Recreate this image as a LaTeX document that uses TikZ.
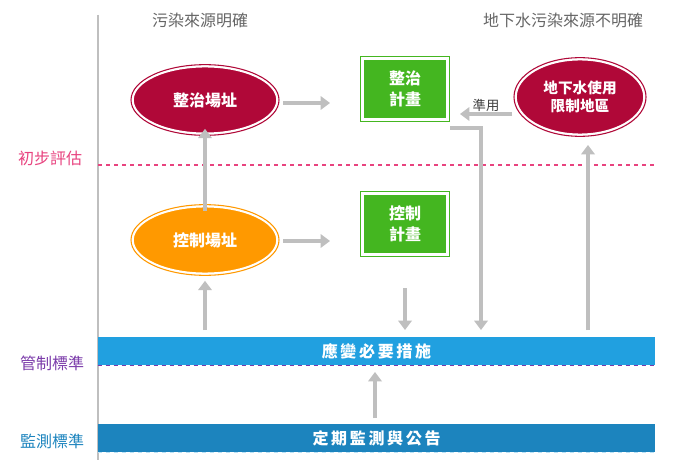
\documentclass[tikz,border=0pt]{standalone}
\usepackage{fontspec}
\setmainfont{Noto Sans CJK TC}
\usetikzlibrary{shapes, arrows.meta, positioning, backgrounds}
\definecolor{crimson}{HTML}{B00838}
\definecolor{orng}{HTML}{FF9900}
\definecolor{grn}{HTML}{44B620}
\definecolor{barblue}{HTML}{21A0E0}
\definecolor{bardark}{HTML}{1C84BE}
\definecolor{pinkish}{HTML}{E8437F}
\definecolor{purp}{HTML}{7B3BAA}
\definecolor{arrgray}{HTML}{BFBFBF}
\tikzstyle{site} = [ellipse, minimum width=108, minimum height=50, draw=white, line width=1.2, text=white, font=\fontsize{12}{14}\selectfont\bfseries]
\tikzstyle{ring} = [ellipse, draw=crimson, line width=0.8]
\tikzstyle{plan} = [rectangle, minimum width=62, minimum height=45, fill=grn, draw=white, line width=1.2, text=white, align=center, font=\fontsize{12}{16}\selectfont\bfseries]
\tikzstyle{bar} = [rectangle, minimum width=418, minimum height=21, text=white, font=\fontsize{12}{14}\selectfont\bfseries, inner sep=0]
\tikzstyle{arrow} = [-{Triangle[length=7,width=10]}, line width=3.4, draw=arrgray]
\tikzstyle{side} = [font=\fontsize{12}{14}\selectfont]

\begin{document}
\begin{tikzpicture}[x=0.75pt, y=-0.75pt, background rectangle/.style={fill=white}, show background rectangle]
    \useasboundingbox (0,0) rectangle (691,470);

    \draw [arrgray, line width=1.5] (98, 15) -- (98, 460);

    \node (head1) [text=gray!80!black, side] at (200, 20) {污染來源明確};
    \node (head2) [text=gray!80!black, side] at (563, 20) {地下水污染來源不明確};

    \node (lab1) [text=pinkish, side] at (50, 158) {初步評估};
    \node (lab2) [text=purp, side] at (52, 363) {管制標準};
    \node (lab3) [text=bardark, side] at (52, 441) {監測標準};

    \draw [pinkish, dashed, line width=1] (98, 165) -- (655, 165);

    % ellipses
    \node (fix) [site, fill=crimson] at (205, 100) {整治場址};
    \node [ring, minimum width=111, minimum height=53] at (fix) {};
    \node (ctrl) [site, fill=orng] at (205, 240) {控制場址};
    \node [ring, draw=orng, minimum width=111, minimum height=53] at (ctrl) {};
    \node (gw) [site, fill=crimson, minimum width=96, minimum height=56, align=center, font=\fontsize{11}{14}\selectfont\bfseries] at (580, 97) {地下水使用\\限制地區};
    \node [ring, minimum width=99, minimum height=59] at (gw) {};

    % plans
    \node (fixplan) [plan] at (405, 89) {整治\\計畫};
    \draw [grn, line width=0.8] ([shift={(-2,-2)}]fixplan.north west) rectangle ([shift={(2,2)}]fixplan.south east);
    \node (ctrlplan) [plan] at (405, 224) {控制\\計畫};
    \draw [grn, line width=0.8] ([shift={(-2,-2)}]ctrlplan.north west) rectangle ([shift={(2,2)}]ctrlplan.south east);

    % bars
    \node (resp) [bar, fill=barblue] at (376.5, 351) {應\,變\,必\,要\,措\,施};
    \node (mon) [bar, fill=bardark] at (376.5, 438) {定\,期\,監\,測\,與\,公\,告};
    \draw [purp, dashed, line width=1] (resp.south west) -- (resp.south east);
    \draw [white!70!barblue, dashed, line width=0.8] (mon.south west) -- (mon.south east);

    % arrow ends
    \coordinate (a1) at (283, 103);
    \coordinate (a2) at (330, 103);
    \coordinate (b1) at (283, 241);
    \coordinate (b2) at (330, 241);
    \coordinate (c1) at (205, 330);
    \coordinate (d1) at (405, 330);
    \coordinate (e0) at (450, 128);
    \coordinate (e1) at (481, 330);
    \coordinate (f1) at (588, 330);
    \coordinate (f2) at (588, 145);
    \coordinate (g1) at (512, 114);
    \coordinate (g2) at (460, 114);
    \coordinate (h1) at (375, 418);
    \coordinate (h2) at (375, 372);

    % arrows
    \draw [arrow] (a1) -- (a2);
    \draw [arrow] (b1) -- (b2);
    \draw [arrow] ([yshift=-4]ctrl.north) -- ([yshift=4]fix.south);
    \draw [arrow] (c1) -- ([yshift=-5]ctrl.south);
    \draw [arrow] ([yshift=-25]ctrlplan.south) -- (d1);
    \draw [arrow] (e0) -| (e1);
    \draw [arrow] (f1) -- (f2);
    \draw [arrow] (g1) -- node[above=4, text=black!75, font=\fontsize{10}{12}\selectfont] {準用} (g2);
    \draw [arrow] (h1) -- (h2);

\end{tikzpicture}
\end{document}
